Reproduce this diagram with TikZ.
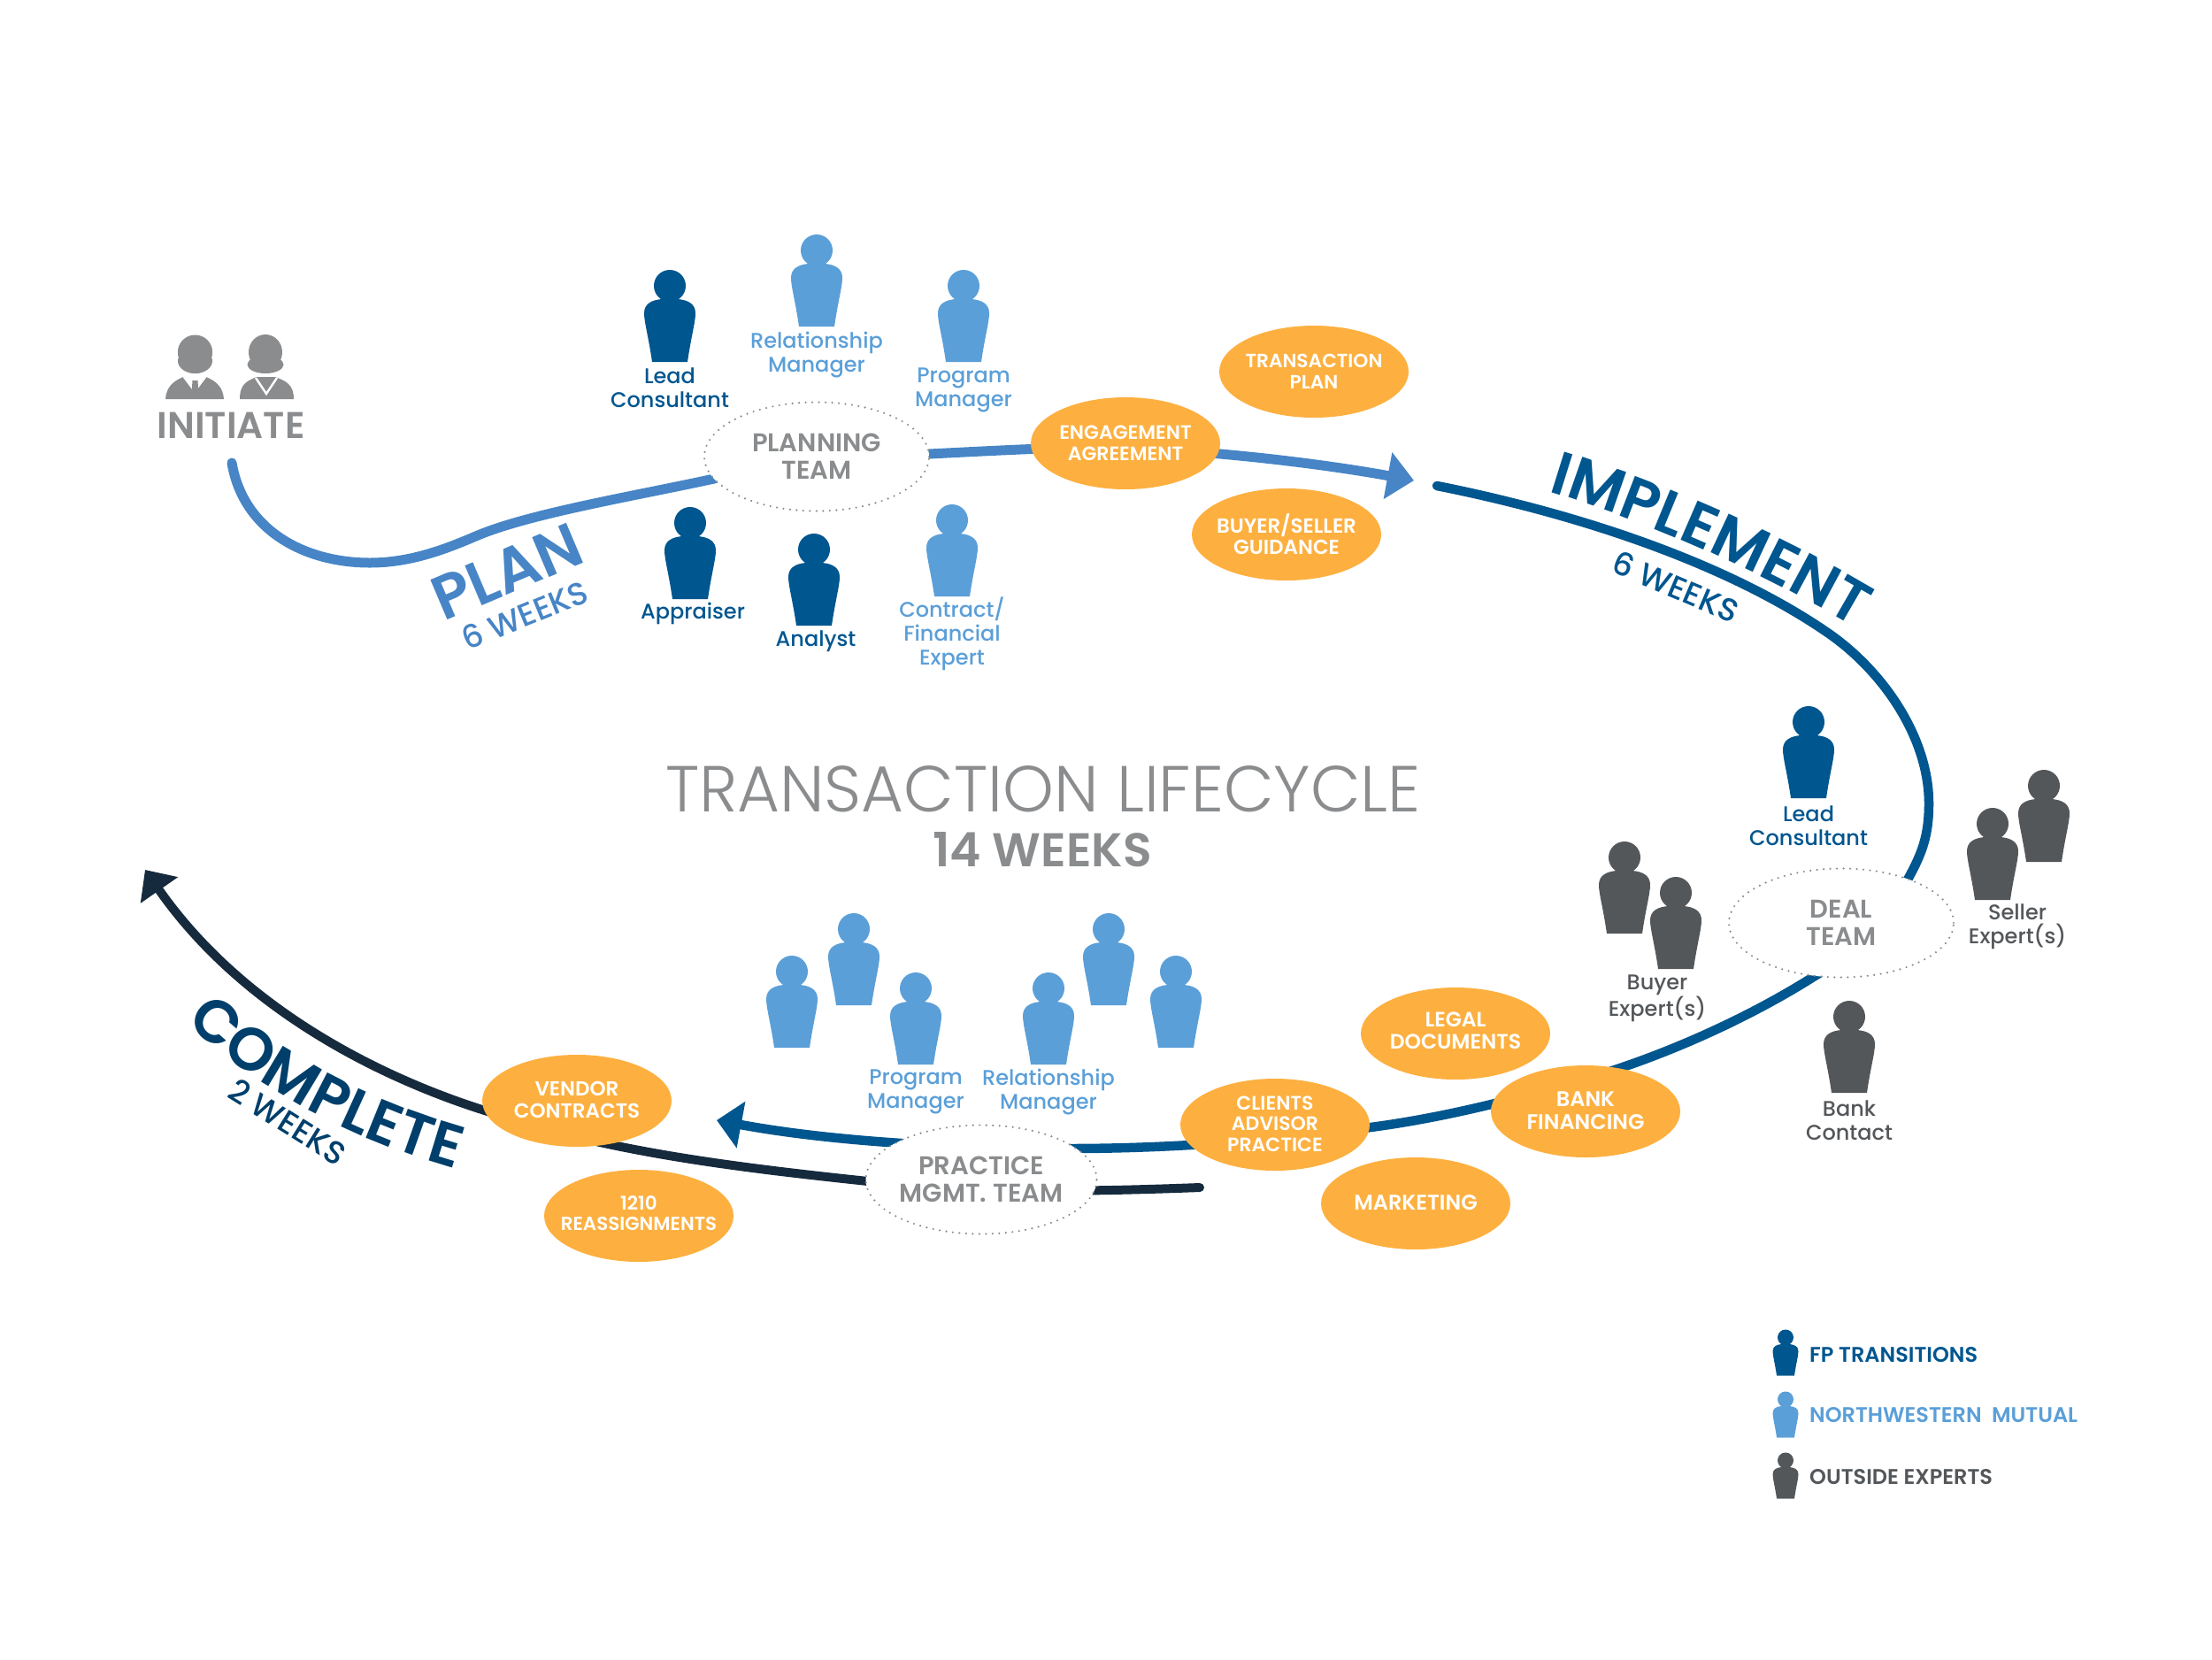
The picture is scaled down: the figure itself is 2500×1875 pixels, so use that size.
\documentclass[tikz,border=0pt]{standalone}
\usepackage{fontspec}
\usetikzlibrary{shapes.geometric,arrows.meta,decorations.text}
\setmainfont{Poppins}
\newfontfamily\fpmed{Poppins Medium}
\newfontfamily\fplight{Poppins Light}
\newfontfamily\fpsemi{Poppins SemiBold}
\newcommand\fsz[2]{\fontsize{#1}{#2}\selectfont}
\definecolor{cdark}{HTML}{00568F}
\definecolor{clight}{HTML}{5B9FD8}
\definecolor{cgray}{HTML}{54575A}
\definecolor{cplan}{HTML}{4785C6}
\definecolor{cnavy}{HTML}{162A3D}
\definecolor{ccomp}{HTML}{003F6B}
\definecolor{corange}{HTML}{FDB040}
\definecolor{cteam}{HTML}{8A8C8E}
\tikzset{
  pics/person/.style={code={
    \fill[#1] (0,17) ellipse (18 and 18);
    \fill[#1] (-9,32) .. controls (-20,33) and (-29,37) .. (-29,48)
      .. controls (-29,58) and (-24,75) .. (-20,103) -- (20,103)
      .. controls (24,75) and (29,58) .. (29,48)
      .. controls (29,37) and (20,33) .. (9,32) -- cycle;
  }},
  plabel/.style={font=\fpmed\fsz{24}{27},align=center,inner sep=0pt,text=#1},
  orangetext/.style={text=white,align=center,inner sep=0pt},
  orange/.style n args={4}{ellipse,fill=corange,minimum width=214pt,minimum height=104pt,inner sep=0pt,
    label={[orangetext,yshift=#1,font=\fpsemi\fsz{#2}{#3}]center:{#4}}},
  teamoval/.style={ellipse,fill=white,draw=cteam,line width=2.4pt,line cap=round,
    dash pattern=on 0pt off 7.5pt,minimum width=254pt,minimum height=123pt,inner sep=0pt,
    text=cteam,align=center,font=\fpsemi\fsz{29}{31}},
  legendtext/.style={anchor=west,inner sep=0pt,font=\fpsemi\fsz{24}{26},text=#1},
  flow/.style={line width=#1,line cap=round,line join=round},
}
\begin{document}
\begin{tikzpicture}[x=1pt,y=-1pt]
\useasboundingbox (0,0) rectangle (2500,1875);
% way points
\coordinate (p0) at (262,523);
\coordinate (pend) at (1598,543);
\coordinate (i0) at (1624,549);
\coordinate (iend) at (810,1266);
\coordinate (c0) at (1356,1342);
\coordinate (cend) at (164,983);
% flows
\draw[flow=11pt,cplan,-{Triangle[length=30pt,width=52pt]}] (p0)
 .. controls (275,600) and (345,636) .. (418,636)
 .. controls (465,636) and (505,620) .. (540,605)
 .. controls (600,580) and (720,560) .. (807,541)
 .. controls (850,530) and (900,520) .. (1050,513)
 .. controls (1130,509) and (1220,504) .. (1271,506)
 .. controls (1380,510) and (1500,525) .. (pend);
\draw[flow=10.5pt,cdark,-{Triangle[length=28pt,width=52pt]}] (i0)
 .. controls (1780,580) and (1950,635) .. (2067,716)
 .. controls (2130,760) and (2180,835) .. (2180,908)
 .. controls (2180,945) and (2172,965) .. (2156,994)
 .. controls (2130,1045) and (2095,1078) .. (2051,1103)
 .. controls (1985,1145) and (1900,1185) .. (1816,1212)
 .. controls (1730,1238) and (1640,1262) .. (1549,1274)
 .. controls (1450,1288) and (1330,1298) .. (1208,1298)
 .. controls (1100,1298) and (950,1292) .. (iend);
\draw[flow=10pt,cnavy,-{Triangle[length=28pt,width=50pt]}] (c0)
 .. controls (1250,1346) and (1100,1350) .. (981,1335)
 .. controls (820,1318) and (680,1300) .. (551,1256)
 .. controls (420,1215) and (270,1135) .. (cend);
% initiate icons
\fill[cteam] (220.5,398) circle (19.5);
\fill[cteam] (220.5,408) ellipse (19.5 and 14);
\fill[cteam] (187,451) .. controls (188,438) and (195,431) .. (207,426) -- (220,424) -- (233,426) .. controls (245,431) and (252,438) .. (253,451) -- cycle;
\fill[white] (205,424) -- (235,424) -- (223,440) -- (217,440) -- cycle;
\fill[cteam] (220.5,398) ellipse (19.5 and 19);
\fill[cteam] (220.5,408) ellipse (18 and 14);
\fill[cteam] (217.5,430) -- (223.5,430) -- (224.5,446) -- (216.5,446) -- cycle;
\fill[cteam] (300,398) ellipse (19 and 20);
\fill[cteam] (300,412) ellipse (20.5 and 10);
\fill[cteam] (271,451) .. controls (271,436) and (277,431) .. (290,426) -- (311,426) .. controls (325,431) and (332,436) .. (332,451) -- cycle;
\draw[white,line width=2.4pt,line join=miter] (289,427) -- (301,445) -- (313,427);
\node[font=\fpsemi\fsz{42}{44},text=cteam,inner sep=0pt] (initiate) at (261,481) {INITIATE};
% team ovals
\node[teamoval] (planning) at (923,516) {PLANNING\\TEAM};
\node[teamoval] (deal) at (2081,1043) {DEAL\\TEAM};
\node[teamoval] (practice) at (1109,1333) {PRACTICE\\MGMT. TEAM};
% deliverables
\node[orange={0pt}{21.7}{24}{TRANSACTION\\PLAN}] (transplan) at (1485,420) {};
\node[orange={0pt}{22}{24}{ENGAGEMENT\\AGREEMENT}] (engage) at (1272,501) {};
\node[orange={0pt}{23}{24}{BUYER/SELLER\\GUIDANCE}] (buyer) at (1454,604) {};
\node[orange={3pt}{23.5}{25.5}{LEGAL\\DOCUMENTS}] (legal) at (1645,1168) {};
\node[orange={1pt}{24}{25.5}{BANK\\FINANCING}] (bank) at (1792,1256) {};
\node[orange={1pt}{22}{23.5}{CLIENTS\\ADVISOR\\PRACTICE}] (clients) at (1441,1271) {};
\node[orange={1pt}{24}{26}{MARKETING}] (marketing) at (1600,1360) {};
\node[orange={1pt}{23}{25}{VENDOR\\CONTRACTS}] (vendor) at (652,1244) {};
\node[orange={3pt}{21.4}{23}{1210\\REASSIGNMENTS}] (reassign) at (722,1374) {};
% people
\pic at (757,306) {person=cdark};
\pic at (923,266) {person=clight};
\pic at (1089,306) {person=clight};
\pic at (780,574) {person=cdark};
\pic at (920,604) {person=cdark};
\pic at (1076,571) {person=clight};
\pic at (2044,799) {person=cdark};
\pic at (2310,871) {person=cgray};
\pic at (2252,914) {person=cgray};
\pic at (1836,952) {person=cgray};
\pic at (1894,992) {person=cgray};
\pic at (2090,1132) {person=cgray};
\pic at (895,1081) {person=clight};
\pic at (965,1033) {person=clight};
\pic at (1035,1100) {person=clight};
\pic at (1185,1100) {person=clight};
\pic at (1253,1033) {person=clight};
\pic at (1329,1081) {person=clight};
% person labels
\node[plabel=cdark] (l1) at (757,438) {Lead\\Consultant};
\node[plabel=clight] (l2) at (923,401) {Relationship\\Manager};
\node[plabel=clight] (l3) at (1089,441) {Program\\Manager};
\node[plabel=cdark] (l4) at (783,693) {Appraiser};
\node[plabel=cdark] (l5) at (922,725) {Analyst};
\node[plabel=clight] (l6) at (1076,716) {Contract/\\Financial\\Expert};
\node[plabel=cdark] (l7) at (2044,933) {Lead\\Consultant};
\node[plabel=cgray] (l8) at (2280,1047) {Seller\\Expert(s)};
\node[plabel=cgray] (l9) at (1873,1128) {Buyer\\Expert(s)};
\node[plabel=cgray] (l10) at (2090,1266) {Bank\\Contact};
\node[plabel=clight] (l11) at (1035,1234) {Program\\Manager};
\node[plabel=clight] (l12) at (1185,1234) {Relationship\\Manager};
% title
\node[font=\fplight\fsz{73.5}{80},text=cteam,inner sep=0pt] (title) at (1179,892) {TRANSACTION LIFECYCLE};
\node[font=\fpsemi\fsz{53.5}{56},text=cteam,inner sep=0pt] (weeks) at (1178,960) {14 WEEKS};
% phase names
\node[font=\fpsemi\fsz{70}{72},text=cplan,rotate=23,inner sep=0pt] (plan) at (573,646) {PLAN};
\node[font=\fpmed\fsz{36}{38},text=cplan,rotate=22,inner sep=0pt] (planw) at (593,695) {6 WEEKS};
\node[font=\fpmed\fsz{36}{38},text=cdark,rotate=-23,inner sep=0pt] (implw) at (1894,663) {6 WEEKS};
\node[font=\fpmed\fsz{36}{38},text=ccomp,rotate=-32,inner sep=0pt] (compw) at (325,1268) {2 WEEKS};
\path[decorate,decoration={text along path,text align=center,
  text={|\fpsemi\fsz{69}{71}\color{cdark}|IMPLEMENT}}]
  (1742,553) .. controls (1850,585) and (1990,645) .. (2104,714);
\path[decorate,decoration={text along path,text align=center,
  text={|\fpsemi\fsz{68}{70}\color{ccomp}|COMPLETE}}]
  (202,1147) .. controls (285,1230) and (400,1290) .. (525,1324);
% legend
\pic[scale=.5] at (2018,1503) {person=cdark};
\pic[scale=.5] at (2018,1573) {person=clight};
\pic[scale=.5] at (2018,1642) {person=cgray};
\node[legendtext=cdark] (lg1) at (2045,1531) {FP TRANSITIONS};
\node[legendtext=clight] (lg2) at (2045,1599) {NORTHWESTERN\ \ MUTUAL};
\node[legendtext=cgray] (lg3) at (2045,1669) {OUTSIDE EXPERTS};
\end{tikzpicture}
\end{document}
